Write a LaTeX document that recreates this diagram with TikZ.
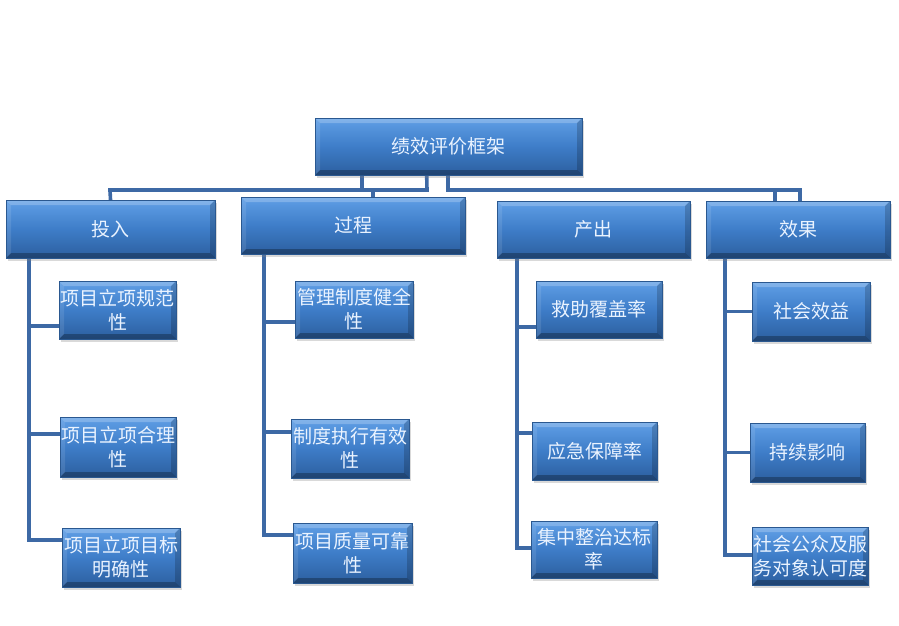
\documentclass[tikz,border=0pt]{standalone}
\usepackage{fontspec}
\setmainfont{Noto Sans CJK SC}
\usetikzlibrary{shadows,backgrounds}
\definecolor{boxtop}{HTML}{609FE6}
\definecolor{boxmid}{HTML}{3E7DC8}
\definecolor{boxbot}{HTML}{2C5F9F}
\definecolor{boxedge}{HTML}{2A5890}
\definecolor{conncol}{HTML}{3D69A5}
\definecolor{txtcol}{HTML}{EAF3FF}
\tikzset{
  bluebox/.style={rectangle, inner sep=0pt, align=center,
    top color=boxtop, bottom color=boxbot, middle color=boxmid,
    draw=boxedge, line width=0.6pt, text=txtcol,
    font=\fontsize{19}{24}\selectfont,
    drop shadow={shadow xshift=2pt, shadow yshift=-3pt, opacity=0.3},
    path picture={
      \coordinate (bvnw) at (path picture bounding box.north west);
      \coordinate (bvne) at (path picture bounding box.north east);
      \coordinate (bvsw) at (path picture bounding box.south west);
      \coordinate (bvse) at (path picture bounding box.south east);
      \fill[white,opacity=.22] (bvnw) -- (bvne) -- ([shift={(-5pt,-5pt)}]bvne) -- ([shift={(5pt,-5pt)}]bvnw) -- cycle;
      \fill[black,opacity=.28] (bvsw) -- (bvse) -- ([shift={(-5pt,5pt)}]bvse) -- ([shift={(5pt,5pt)}]bvsw) -- cycle;
      \fill[white,opacity=.10] (bvnw) -- (bvsw) -- ([shift={(5pt,5pt)}]bvsw) -- ([shift={(5pt,-5pt)}]bvnw) -- cycle;
      \fill[black,opacity=.18] (bvne) -- (bvse) -- ([shift={(-5pt,5pt)}]bvse) -- ([shift={(-5pt,-5pt)}]bvne) -- cycle;
    }},
  conn/.style={draw=conncol, line width=3.6pt, line cap=rect}
}
\begin{document}
\begin{tikzpicture}[x=1pt,y=-1pt]
\useasboundingbox (0,0) rectangle (899,626);
% root and categories
\node[bluebox, minimum width=267pt, minimum height=57pt] (R) at (448.5,146.5) {绩效评价框架};
\node[bluebox, minimum width=209pt, minimum height=58pt] (A) at (110.5,229) {投入};
\node[bluebox, minimum width=224pt, minimum height=57pt] (B) at (353,225.5) {过程};
\node[bluebox, minimum width=193pt, minimum height=57pt] (C) at (593.5,229.5) {产出};
\node[bluebox, minimum width=184pt, minimum height=57pt] (D) at (798,229.5) {效果};
% leaves
\node[bluebox, minimum width=117pt, minimum height=58pt] (a1) at (117.5,310) {项目立项规范\\性};
\node[bluebox, minimum width=116pt, minimum height=60pt] (a2) at (118,447) {项目立项合理\\性};
\node[bluebox, minimum width=118pt, minimum height=59pt] (a3) at (121,557.5) {项目立项目标\\明确性};
\node[bluebox, minimum width=118pt, minimum height=57pt] (b1) at (354,309.5) {管理制度健全\\性};
\node[bluebox, minimum width=118pt, minimum height=59pt] (b2) at (350,448.5) {制度执行有效\\性};
\node[bluebox, minimum width=119pt, minimum height=60pt] (b3) at (352.5,553) {项目质量可靠\\性};
\node[bluebox, minimum width=126pt, minimum height=57pt] (c1) at (599,309.5) {救助覆盖率};
\node[bluebox, minimum width=125pt, minimum height=58pt] (c2) at (594.5,451) {应急保障率};
\node[bluebox, minimum width=126pt, minimum height=57pt] (c3) at (594,549.5) {集中整治达标\\率};
\node[bluebox, minimum width=118pt, minimum height=59pt] (d1) at (811,311.5) {社会效益};
\node[bluebox, minimum width=115pt, minimum height=59pt] (d2) at (807.5,452.5) {持续影响};
\node[bluebox, minimum width=116pt, minimum height=58pt] (d3) at (810,556) {社会公众及服\\务对象认可度};
% connectors
\coordinate (h1) at (110,190);
\coordinate (h2) at (427,190);
\coordinate (h3) at (800,190);
\coordinate (sa) at ([xshift=23pt]A.south west);
\coordinate (sb) at ([xshift=23pt]B.south west);
\coordinate (sc) at ([xshift=20pt]C.south west);
\coordinate (sd) at ([xshift=19pt]D.south west);
\begin{scope}[on background layer]
\draw[conn] ([xshift=112pt]R.south west) -- (h2) -- (h1) -- (A.north);
\draw[conn] ([xshift=47pt]R.south west) |- (h1);
\draw[conn] ([xshift=132pt]B.north west) |- (h1);
\draw[conn] ([xshift=133pt]R.south west) |- (h3) -- ([xshift=2pt]D.north);
\draw[conn] ([xshift=69pt]D.north west) |- (h3);
\draw[conn] ([yshift=-16pt]a1.west) -| (sa);
\draw[conn] ([yshift=13pt]a2.west) -| (sa);
\draw[conn] ([yshift=17.5pt]a3.west) -| (sa);
\draw[conn] ([yshift=-12.5pt]b1.west) -| (sb);
\draw[conn] ([yshift=16.5pt]b2.west) -| (sb);
\draw[conn] ([yshift=18pt]b3.west) -| (sb);
\draw[conn] ([yshift=-17.5pt]c1.west) -| (sc);
\draw[conn] ([yshift=18pt]c2.west) -| (sc);
\draw[conn] ([yshift=1.5pt]c3.west) -| (sc);
\draw[conn] (d1.west) -| (sd);
\draw[conn] (d2.west) -| (sd);
\draw[conn] ([yshift=1pt]d3.west) -| (sd);
\end{scope}
\end{tikzpicture}
\end{document}
